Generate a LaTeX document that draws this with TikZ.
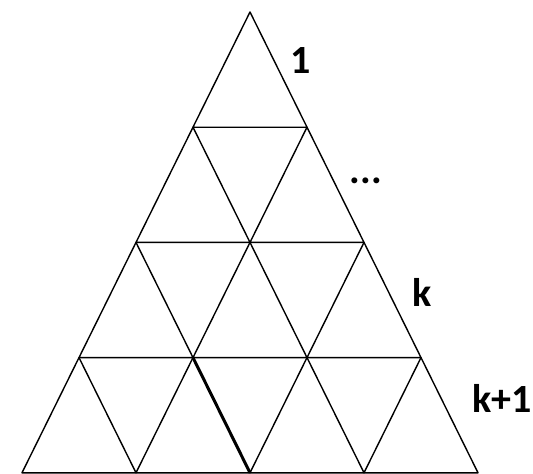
\documentclass[tikz,border=0pt]{standalone}
\usepackage{fontspec}
\setmainfont{Carlito}
\usetikzlibrary{positioning}
\tikzset{
    % Lattice styles
    edge line/.style={draw, line width=1.4pt, line join=round},
    marked edge/.style={draw, line width=3pt},
    % Label styles
    row label/.style={font=\fontsize{40}{44}\selectfont\bfseries, inner sep=0pt},
}

\begin{document}
\begin{tikzpicture}[x=1pt, y=-1pt]
    \useasboundingbox (0,0) rectangle (533,474);

    % Lattice points
    \foreach \i in {0,...,4} {
        \foreach \j in {0,...,\i} {
            \coordinate (v-\i-\j) at ({250-57*\i+114*\j}, {12+115.2*\i});
        }
    }

    % Upward triangles
    \foreach \i in {1,...,4} {
        \pgfmathtruncatemacro{\p}{\i-1}
        \foreach \j in {0,...,\p} {
            \pgfmathtruncatemacro{\q}{\j+1}
            \draw[edge line] (v-\p-\j) -- (v-\i-\j) -- (v-\i-\q) -- cycle;
        }
    }

    % Marked edge
    \draw[marked edge] (v-3-1) -- (v-4-2);

    % Row labels
    \node[row label] (lbl-1) at (301, 61) {1};
    \node[row label] (lbl-dots) at (366, 181) {...};
    \node[row label] (lbl-k) at (422, 292) {k};
    \node[row label] (lbl-k1) at (502, 398) {k+1};
\end{tikzpicture}
\end{document}
